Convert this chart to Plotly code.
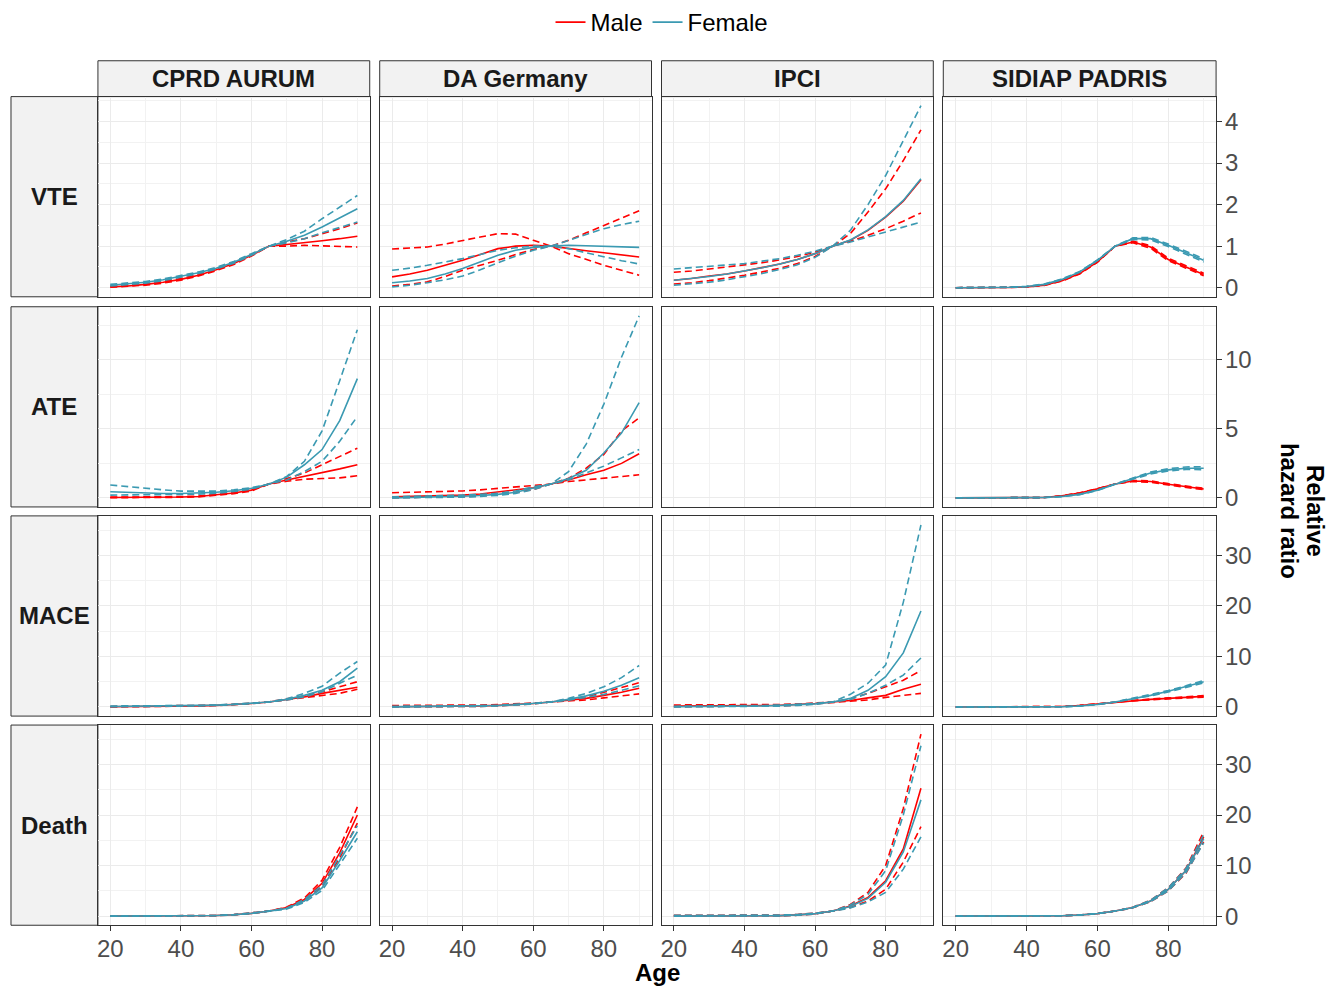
import plotly.graph_objects as go

AGES = [20, 25, 30, 35, 40, 45, 50, 55, 60, 65, 70, 75, 80, 85, 90]
DATABASES = ["CPRD AURUM", "DA Germany", "IPCI", "SIDIAP PADRIS"]
OUTCOMES = ["VTE", "ATE", "MACE", "Death"]
SEXES = ["Male", "Female"]

X_TICKS = [20, 40, 60, 80]
X_MINOR = [30, 50, 70, 90]
Y_TICKS = [[0, 1, 2, 3, 4], [0, 5, 10], [0, 10, 20, 30], [0, 10, 20, 30]]
Y_MINOR = [[0.5, 1.5, 2.5, 3.5, 4.5], [2.5, 7.5, 12.5], [5, 15, 25, 35], [5, 15, 25, 35]]

# ---------------- VTE ----------------
VTE_CPRD_M    = [0.02,0.04,0.08,0.13,0.20,0.30,0.43,0.58,0.78,1.00,1.04,1.08,1.13,1.18,1.24]
VTE_CPRD_M_B1 = [0.04,0.06,0.10,0.15,0.22,0.32,0.45,0.60,0.80,1.00,1.10,1.18,1.30,1.42,1.56]
VTE_CPRD_M_B2 = [0.01,0.03,0.06,0.11,0.18,0.28,0.41,0.56,0.76,1.00,1.00,1.02,1.01,1.00,0.98]
VTE_CPRD_F    = [0.06,0.09,0.13,0.19,0.27,0.36,0.47,0.61,0.80,1.00,1.12,1.26,1.46,1.68,1.90]
VTE_CPRD_F_B1 = [0.08,0.11,0.15,0.21,0.29,0.38,0.49,0.63,0.82,1.00,1.16,1.36,1.66,1.94,2.22]
VTE_CPRD_F_B2 = [0.04,0.07,0.11,0.17,0.25,0.34,0.45,0.59,0.78,1.00,1.08,1.18,1.32,1.45,1.58]

VTE_DAG_M    = [0.26,0.33,0.42,0.54,0.66,0.80,0.94,1.00,1.02,1.00,0.94,0.89,0.84,0.79,0.74]
VTE_DAG_M_B1 = [0.93,0.95,0.98,1.05,1.14,1.22,1.30,1.29,1.14,1.00,0.82,0.68,0.54,0.42,0.30]
VTE_DAG_M_B2 = [0.04,0.08,0.14,0.27,0.42,0.54,0.66,0.80,0.92,1.00,1.14,1.32,1.50,1.68,1.85]
VTE_DAG_F    = [0.12,0.16,0.22,0.33,0.46,0.62,0.78,0.90,0.97,1.00,1.02,1.01,1.00,0.98,0.97]
VTE_DAG_F_B1 = [0.42,0.47,0.54,0.62,0.70,0.80,0.90,0.96,1.00,1.00,0.94,0.84,0.74,0.65,0.57]
VTE_DAG_F_B2 = [0.02,0.06,0.12,0.19,0.28,0.43,0.60,0.76,0.90,1.00,1.14,1.28,1.42,1.52,1.60]

VTE_IPCI_M    = [0.18,0.22,0.28,0.33,0.40,0.48,0.57,0.68,0.82,1.00,1.14,1.38,1.70,2.08,2.60]
VTE_IPCI_M_B1 = [0.37,0.40,0.45,0.50,0.54,0.60,0.67,0.75,0.86,1.00,1.12,1.26,1.42,1.60,1.80]
VTE_IPCI_M_B2 = [0.09,0.12,0.17,0.23,0.30,0.38,0.47,0.58,0.75,1.00,1.30,1.82,2.38,3.06,3.80]
VTE_IPCI_F    = [0.18,0.22,0.27,0.33,0.40,0.48,0.57,0.68,0.82,1.00,1.15,1.39,1.71,2.10,2.62]
VTE_IPCI_F_B1 = [0.45,0.48,0.52,0.55,0.58,0.64,0.70,0.78,0.88,1.00,1.10,1.22,1.34,1.46,1.58]
VTE_IPCI_F_B2 = [0.06,0.09,0.13,0.19,0.26,0.34,0.44,0.55,0.73,1.00,1.38,2.00,2.70,3.54,4.38]

VTE_SID_M    = [0,0,0,0.005,0.02,0.06,0.17,0.34,0.62,1.00,1.10,0.98,0.68,0.50,0.32]
VTE_SID_M_B1 = [0,0,0,0.006,0.022,0.065,0.18,0.35,0.63,1.00,1.12,1.01,0.71,0.53,0.35]
VTE_SID_M_B2 = [0,0,0,0.004,0.018,0.055,0.16,0.33,0.61,1.00,1.08,0.95,0.65,0.47,0.29]
VTE_SID_F    = [0,0,0,0.01,0.03,0.08,0.20,0.38,0.66,1.00,1.18,1.18,1.02,0.84,0.66]
VTE_SID_F_B1 = [0,0,0,0.012,0.035,0.09,0.21,0.39,0.67,1.00,1.20,1.21,1.05,0.87,0.70]
VTE_SID_F_B2 = [0,0,0,0.008,0.025,0.07,0.19,0.37,0.65,1.00,1.16,1.15,0.99,0.81,0.62]

# ---------------- ATE ----------------
ATE_CPRD_M    = [0.02,0.02,0.03,0.04,0.06,0.10,0.20,0.35,0.56,1.00,1.30,1.55,1.80,2.10,2.40]
ATE_CPRD_M_B1 = [0.05,0.05,0.06,0.07,0.09,0.13,0.24,0.40,0.62,1.00,1.40,1.80,2.40,3.00,3.60]
ATE_CPRD_M_B2 = [0.01,0.01,0.01,0.02,0.04,0.07,0.16,0.30,0.50,1.00,1.20,1.35,1.40,1.45,1.60]
ATE_CPRD_F    = [0.44,0.38,0.32,0.31,0.32,0.34,0.40,0.52,0.69,1.00,1.50,2.40,3.50,5.60,8.65]
ATE_CPRD_F_B1 = [0.93,0.80,0.69,0.58,0.49,0.48,0.49,0.58,0.74,1.00,1.30,1.90,2.65,4.10,5.90]
ATE_CPRD_F_B2 = [0.20,0.20,0.20,0.22,0.25,0.27,0.33,0.46,0.64,1.00,1.55,2.65,4.85,8.50,12.2]

ATE_DAG_M    = [0.07,0.10,0.13,0.16,0.20,0.28,0.44,0.56,0.73,1.00,1.30,1.67,2.00,2.50,3.20]
ATE_DAG_M_B1 = [0.37,0.40,0.44,0.47,0.50,0.58,0.69,0.78,0.88,1.00,1.18,1.30,1.42,1.55,1.67]
ATE_DAG_M_B2 = [0.01,0.02,0.04,0.06,0.08,0.14,0.26,0.40,0.60,1.00,1.42,2.15,3.15,4.85,5.80]
ATE_DAG_F    = [0.00,0.02,0.05,0.08,0.12,0.17,0.25,0.40,0.69,1.00,1.40,2.00,3.25,4.70,6.90]
ATE_DAG_F_B1 = [0.07,0.09,0.12,0.16,0.20,0.25,0.33,0.50,0.80,1.00,1.30,1.80,2.30,2.90,3.50]
ATE_DAG_F_B2 = [0.00,0.00,0.01,0.02,0.05,0.10,0.18,0.32,0.60,1.00,1.90,3.90,6.80,10.2,13.2]

ATE_SID_M    = [0,0,0,0,0,0.02,0.15,0.35,0.65,1.00,1.22,1.18,0.98,0.80,0.64]
ATE_SID_M_B1 = [0,0,0,0,0,0.02,0.16,0.37,0.67,1.00,1.26,1.23,1.03,0.85,0.69]
ATE_SID_M_B2 = [0,0,0,0,0,0.02,0.14,0.33,0.63,1.00,1.18,1.13,0.93,0.75,0.59]
ATE_SID_F    = [0,0,0,0,0,0.02,0.10,0.25,0.55,1.00,1.40,1.80,2.03,2.15,2.15]
ATE_SID_F_B1 = [0,0,0,0,0,0.02,0.11,0.27,0.57,1.00,1.45,1.87,2.11,2.24,2.26]
ATE_SID_F_B2 = [0,0,0,0,0,0.02,0.09,0.23,0.53,1.00,1.35,1.73,1.95,2.06,2.04]

# ---------------- MACE ----------------
MACE_CPRD_M    = [0.05,0.07,0.09,0.12,0.16,0.22,0.32,0.48,0.70,1.00,1.50,2.00,2.70,3.30,3.90]
MACE_CPRD_M_B1 = [0.10,0.12,0.14,0.17,0.20,0.26,0.36,0.52,0.74,1.00,1.60,2.20,3.00,4.00,5.00]
MACE_CPRD_M_B2 = [0.02,0.03,0.05,0.08,0.12,0.18,0.28,0.44,0.66,1.00,1.40,1.85,2.30,2.70,3.50]
MACE_CPRD_F    = [0.10,0.12,0.14,0.16,0.20,0.26,0.36,0.50,0.70,1.00,1.50,2.30,3.30,5.00,7.70]
MACE_CPRD_F_B1 = [0.20,0.20,0.21,0.22,0.25,0.30,0.40,0.55,0.75,1.00,1.65,2.70,4.10,6.70,9.00]
MACE_CPRD_F_B2 = [0.05,0.07,0.09,0.11,0.15,0.22,0.32,0.46,0.66,1.00,1.40,2.00,3.00,4.70,6.30]

MACE_DAG_M    = [0.05,0.07,0.09,0.12,0.16,0.22,0.32,0.48,0.70,1.00,1.30,1.70,2.30,2.90,3.70]
MACE_DAG_M_B1 = [0.30,0.30,0.31,0.32,0.35,0.40,0.48,0.60,0.78,1.00,1.50,2.00,2.90,3.80,4.80]
MACE_DAG_M_B2 = [0.01,0.02,0.03,0.05,0.08,0.13,0.22,0.38,0.62,1.00,1.15,1.40,1.80,2.20,2.60]
MACE_DAG_F    = [0.02,0.04,0.06,0.09,0.13,0.19,0.28,0.43,0.66,1.00,1.50,2.20,3.10,4.30,5.80]
MACE_DAG_F_B1 = [0.15,0.16,0.18,0.20,0.23,0.28,0.36,0.50,0.72,1.00,1.70,2.70,4.00,5.80,8.20]
MACE_DAG_F_B2 = [0.00,0.01,0.02,0.04,0.07,0.12,0.21,0.36,0.60,1.00,1.35,1.90,2.50,3.30,4.20]

MACE_IPCI_M    = [0.20,0.20,0.21,0.22,0.24,0.28,0.35,0.50,0.70,1.00,1.30,1.80,2.30,3.50,4.50]
MACE_IPCI_M_B1 = [0.40,0.40,0.40,0.41,0.42,0.45,0.50,0.60,0.78,1.00,1.60,2.70,4.00,5.30,7.20]
MACE_IPCI_M_B2 = [0.05,0.06,0.07,0.08,0.10,0.14,0.22,0.38,0.62,1.00,1.10,1.40,1.90,2.30,2.70]
MACE_IPCI_F    = [0.05,0.06,0.08,0.10,0.14,0.20,0.30,0.45,0.62,1.00,1.70,3.30,6.00,10.7,19.0]
MACE_IPCI_F_B1 = [0.15,0.16,0.18,0.20,0.24,0.30,0.40,0.55,0.72,1.00,2.50,4.70,8.30,20.7,36.0]
MACE_IPCI_F_B2 = [0.01,0.02,0.03,0.04,0.06,0.10,0.18,0.32,0.52,1.00,1.50,2.70,4.30,6.30,9.70]

MACE_SID_M    = [0,0,0,0,0,0.02,0.10,0.30,0.60,1.00,1.30,1.50,1.70,1.90,2.10]
MACE_SID_M_B1 = [0,0,0,0,0,0.02,0.11,0.32,0.62,1.00,1.35,1.58,1.80,2.02,2.25]
MACE_SID_M_B2 = [0,0,0,0,0,0.02,0.09,0.28,0.58,1.00,1.25,1.42,1.60,1.78,1.95]
MACE_SID_F    = [0,0,0,0,0,0.01,0.05,0.20,0.50,1.00,1.65,2.30,3.10,4.00,5.00]
MACE_SID_F_B1 = [0,0,0,0,0,0.01,0.06,0.22,0.52,1.00,1.70,2.40,3.25,4.20,5.25]
MACE_SID_F_B2 = [0,0,0,0,0,0.01,0.04,0.18,0.48,1.00,1.60,2.20,2.95,3.80,4.75]

# ---------------- Death ----------------
DEATH_CPRD_M    = [0,0,0,0.01,0.02,0.05,0.12,0.28,0.55,1.00,1.70,3.30,6.50,12.5,20.0]
DEATH_CPRD_M_B1 = [0,0,0,0.01,0.02,0.06,0.14,0.31,0.59,1.00,1.80,3.60,7.10,13.6,21.6]
DEATH_CPRD_M_B2 = [0,0,0,0.01,0.02,0.04,0.10,0.25,0.51,1.00,1.60,3.00,5.90,11.5,18.4]
DEATH_CPRD_F    = [0,0,0,0.01,0.02,0.05,0.12,0.28,0.55,1.00,1.50,3.00,5.60,11.0,16.7]
DEATH_CPRD_F_B1 = [0,0,0,0.01,0.02,0.06,0.14,0.31,0.59,1.00,1.60,3.30,6.10,11.9,17.9]
DEATH_CPRD_F_B2 = [0,0,0,0.01,0.02,0.04,0.10,0.25,0.51,1.00,1.40,2.70,5.10,10.2,15.4]

DEATH_IPCI_M    = [0,0,0,0.01,0.02,0.04,0.10,0.25,0.50,1.00,2.00,3.70,7.00,13.3,25.3]
DEATH_IPCI_M_B1 = [0.15,0.15,0.15,0.15,0.16,0.18,0.22,0.33,0.58,1.00,2.30,4.70,10.0,21.3,36.0]
DEATH_IPCI_M_B2 = [0,0,0,0,0,0.01,0.05,0.18,0.42,1.00,1.70,3.00,5.30,10.7,17.7]
DEATH_IPCI_F    = [0,0,0,0.01,0.02,0.04,0.10,0.25,0.50,1.00,1.90,3.50,6.70,12.7,23.0]
DEATH_IPCI_F_B1 = [0.15,0.15,0.15,0.15,0.16,0.18,0.22,0.33,0.58,1.00,2.20,4.30,9.00,20.0,33.7]
DEATH_IPCI_F_B2 = [0,0,0,0,0,0.01,0.05,0.18,0.42,1.00,1.60,2.80,4.70,9.30,15.7]

DEATH_SID_M    = [0,0,0,0,0.01,0.03,0.08,0.22,0.50,1.00,1.70,3.00,5.30,9.00,15.7]
DEATH_SID_M_B1 = [0,0,0,0,0.01,0.03,0.09,0.24,0.53,1.00,1.75,3.15,5.60,9.50,16.7]
DEATH_SID_M_B2 = [0,0,0,0,0.01,0.03,0.07,0.20,0.47,1.00,1.65,2.85,5.00,8.50,14.7]
DEATH_SID_F    = [0,0,0,0,0.01,0.03,0.08,0.22,0.50,1.00,1.70,3.00,5.30,9.00,15.3]
DEATH_SID_F_B1 = [0,0,0,0,0.01,0.03,0.09,0.24,0.53,1.00,1.75,3.15,5.60,9.40,16.1]
DEATH_SID_F_B2 = [0,0,0,0,0.01,0.03,0.07,0.20,0.47,1.00,1.65,2.85,5.00,8.60,14.5]

# (row, col) -> (male est, male band 1, male band 2, female est, female band 1, female band 2)
PANELS = {
    (0, 0): (VTE_CPRD_M, VTE_CPRD_M_B1, VTE_CPRD_M_B2, VTE_CPRD_F, VTE_CPRD_F_B1, VTE_CPRD_F_B2),
    (0, 1): (VTE_DAG_M, VTE_DAG_M_B1, VTE_DAG_M_B2, VTE_DAG_F, VTE_DAG_F_B1, VTE_DAG_F_B2),
    (0, 2): (VTE_IPCI_M, VTE_IPCI_M_B1, VTE_IPCI_M_B2, VTE_IPCI_F, VTE_IPCI_F_B1, VTE_IPCI_F_B2),
    (0, 3): (VTE_SID_M, VTE_SID_M_B1, VTE_SID_M_B2, VTE_SID_F, VTE_SID_F_B1, VTE_SID_F_B2),
    (1, 0): (ATE_CPRD_M, ATE_CPRD_M_B1, ATE_CPRD_M_B2, ATE_CPRD_F, ATE_CPRD_F_B1, ATE_CPRD_F_B2),
    (1, 1): (ATE_DAG_M, ATE_DAG_M_B1, ATE_DAG_M_B2, ATE_DAG_F, ATE_DAG_F_B1, ATE_DAG_F_B2),
    (1, 3): (ATE_SID_M, ATE_SID_M_B1, ATE_SID_M_B2, ATE_SID_F, ATE_SID_F_B1, ATE_SID_F_B2),
    (2, 0): (MACE_CPRD_M, MACE_CPRD_M_B1, MACE_CPRD_M_B2, MACE_CPRD_F, MACE_CPRD_F_B1, MACE_CPRD_F_B2),
    (2, 1): (MACE_DAG_M, MACE_DAG_M_B1, MACE_DAG_M_B2, MACE_DAG_F, MACE_DAG_F_B1, MACE_DAG_F_B2),
    (2, 2): (MACE_IPCI_M, MACE_IPCI_M_B1, MACE_IPCI_M_B2, MACE_IPCI_F, MACE_IPCI_F_B1, MACE_IPCI_F_B2),
    (2, 3): (MACE_SID_M, MACE_SID_M_B1, MACE_SID_M_B2, MACE_SID_F, MACE_SID_F_B1, MACE_SID_F_B2),
    (3, 0): (DEATH_CPRD_M, DEATH_CPRD_M_B1, DEATH_CPRD_M_B2, DEATH_CPRD_F, DEATH_CPRD_F_B1, DEATH_CPRD_F_B2),
    (3, 2): (DEATH_IPCI_M, DEATH_IPCI_M_B1, DEATH_IPCI_M_B2, DEATH_IPCI_F, DEATH_IPCI_F_B1, DEATH_IPCI_F_B2),
    (3, 3): (DEATH_SID_M, DEATH_SID_M_B1, DEATH_SID_M_B2, DEATH_SID_F, DEATH_SID_F_B1, DEATH_SID_F_B2),
}

# ---------------- style / layout ----------------
W, H = 1331, 988
RED = "#FF0000"
TEAL = "#3B9AB2"
FONT = "Liberation Sans, Arial, sans-serif"
COL_X = [(97, 369), (379, 651), (661, 933), (943, 1216)]
ROW_Y = [(97, 298), (308, 509), (518, 719), (728, 929)]
STRIP_TOP = 61
ROW_STRIP_LEFT = 10
GRID = "#EBEBEB"
MINOR_GRID = "#F2F2F2"
BORDER = "#333333"


def ax_name(k, letter):
    return letter if k == 1 else f"{letter}{k}"


fig = go.Figure()
legend_done = set()
for r in range(4):
    for c in range(4):
        k = r * 4 + c + 1
        xa, ya = ax_name(k, "x"), ax_name(k, "y")
        if (r, c) not in PANELS:
            # empty facet: register the subplot so its frame and grid are drawn
            fig.add_trace(go.Scatter(x=[None], y=[None], mode="lines", xaxis=xa, yaxis=ya,
                                     showlegend=False, hoverinfo="skip"))
            continue
        m, m1, m2, f, f1, f2 = PANELS[(r, c)]
        for sex, est, b1, b2, color in (("Male", m, m1, m2, RED), ("Female", f, f1, f2, TEAL)):
            for band in (b1, b2):
                fig.add_trace(go.Scatter(
                    x=AGES, y=band, mode="lines", xaxis=xa, yaxis=ya,
                    line=dict(color=color, width=1.6, dash="7px,4px"),
                    showlegend=False, legendgroup=sex, hoverinfo="skip"))
            fig.add_trace(go.Scatter(
                x=AGES, y=est, mode="lines", xaxis=xa, yaxis=ya, name=sex,
                line=dict(color=color, width=1.6),
                showlegend=sex not in legend_done, legendgroup=sex))
            legend_done.add(sex)

layout = dict(
    width=W, height=H,
    margin=dict(l=0, r=0, t=0, b=0),
    paper_bgcolor="white", plot_bgcolor="white",
    font=dict(family=FONT, size=24, color="#4D4D4D"),
    showlegend=True,
    legend=dict(orientation="h", x=0.497, xanchor="center", y=1.0, yanchor="top",
                font=dict(size=24, color="#000000"), bgcolor="rgba(0,0,0,0)",
                itemwidth=30, tracegroupgap=0),
)

row_ranges = []
for r in range(4):
    ymax = max(max(v) for (rr, cc), arrs in PANELS.items() if rr == r for v in arrs)
    pad = 0.05 * ymax
    row_ranges.append([-pad, ymax + pad])

for r in range(4):
    for c in range(4):
        k = r * 4 + c + 1
        x0, x1 = COL_X[c]
        y0, y1 = ROW_Y[r]
        bottom = (r == 3)
        right = (c == 3)
        layout[f"xaxis{'' if k == 1 else k}"] = dict(
            domain=[x0 / W, x1 / W], anchor=ax_name(k, "y"),
            range=[16.5, 93.5], tickvals=X_TICKS, showticklabels=bottom,
            ticks="outside" if bottom else "", ticklen=5, tickcolor=BORDER, tickwidth=1,
            ticklabelstandoff=-3,
            tickfont=dict(size=24, color="#4D4D4D"),
            showgrid=True, gridcolor=GRID, gridwidth=1.3, zeroline=False,
            minor=dict(tickvals=X_MINOR, showgrid=True, gridcolor=MINOR_GRID, gridwidth=1),
            showline=True, mirror=True, linecolor=BORDER, linewidth=1,
        )
        layout[f"yaxis{'' if k == 1 else k}"] = dict(
            domain=[1 - y1 / H, 1 - y0 / H], anchor=ax_name(k, "x"),
            side="right", range=row_ranges[r], tickvals=Y_TICKS[r], showticklabels=right,
            ticks="outside" if right else "", ticklen=5, tickcolor=BORDER, tickwidth=1,
            ticklabelstandoff=-2,
            tickfont=dict(size=24, color="#4D4D4D"),
            showgrid=True, gridcolor=GRID, gridwidth=1.3, zeroline=False,
            minor=dict(tickvals=Y_MINOR[r], showgrid=True, gridcolor=MINOR_GRID, gridwidth=1),
            showline=True, mirror=True, linecolor=BORDER, linewidth=1,
        )

shapes = []
annotations = []
for c, name in enumerate(DATABASES):
    x0, x1 = COL_X[c]
    shapes.append(dict(type="rect", xref="paper", yref="paper",
                       x0=x0 / W, x1=x1 / W, y0=1 - ROW_Y[0][0] / H, y1=1 - STRIP_TOP / H,
                       fillcolor="#F2F2F2", line=dict(color=BORDER, width=1), layer="below"))
    annotations.append(dict(text=f"<b>{name}</b>", xref="paper", yref="paper",
                            x=(x0 + x1) / 2 / W, y=1 - (STRIP_TOP + ROW_Y[0][0]) / 2 / H,
                            showarrow=False, xanchor="center", yanchor="middle",
                            font=dict(size=24, color="#1A1A1A", family=FONT)))
for r, name in enumerate(OUTCOMES):
    y0, y1 = ROW_Y[r]
    shapes.append(dict(type="rect", xref="paper", yref="paper",
                       x0=ROW_STRIP_LEFT / W, x1=COL_X[0][0] / W, y0=1 - y1 / H, y1=1 - y0 / H,
                       fillcolor="#F2F2F2", line=dict(color=BORDER, width=1), layer="below"))
    annotations.append(dict(text=f"<b>{name}</b>", xref="paper", yref="paper",
                            x=(ROW_STRIP_LEFT + COL_X[0][0]) / 2 / W, y=1 - (y0 + y1) / 2 / H,
                            showarrow=False, xanchor="center", yanchor="middle",
                            font=dict(size=24, color="#1A1A1A", family=FONT)))

annotations.append(dict(text="<b>Age</b>", xref="paper", yref="paper",
                        x=657 / W, y=1 - 976 / H, showarrow=False,
                        xanchor="center", yanchor="middle",
                        font=dict(size=24, color="#000000", family=FONT)))
# right-hand y title, two lines rotated (reads top to bottom)
annotations.append(dict(text="<b>Relative</b>", xref="paper", yref="paper",
                        x=1315 / W, y=1 - 513 / H, showarrow=False, textangle=90,
                        xanchor="center", yanchor="middle",
                        font=dict(size=24, color="#000000", family=FONT)))
annotations.append(dict(text="<b>hazard ratio</b>", xref="paper", yref="paper",
                        x=1289 / W, y=1 - 513 / H, showarrow=False, textangle=90,
                        xanchor="center", yanchor="middle",
                        font=dict(size=24, color="#000000", family=FONT)))

layout["shapes"] = shapes
layout["annotations"] = annotations
fig.update_layout(**layout)
fig.write_html("out.html")
